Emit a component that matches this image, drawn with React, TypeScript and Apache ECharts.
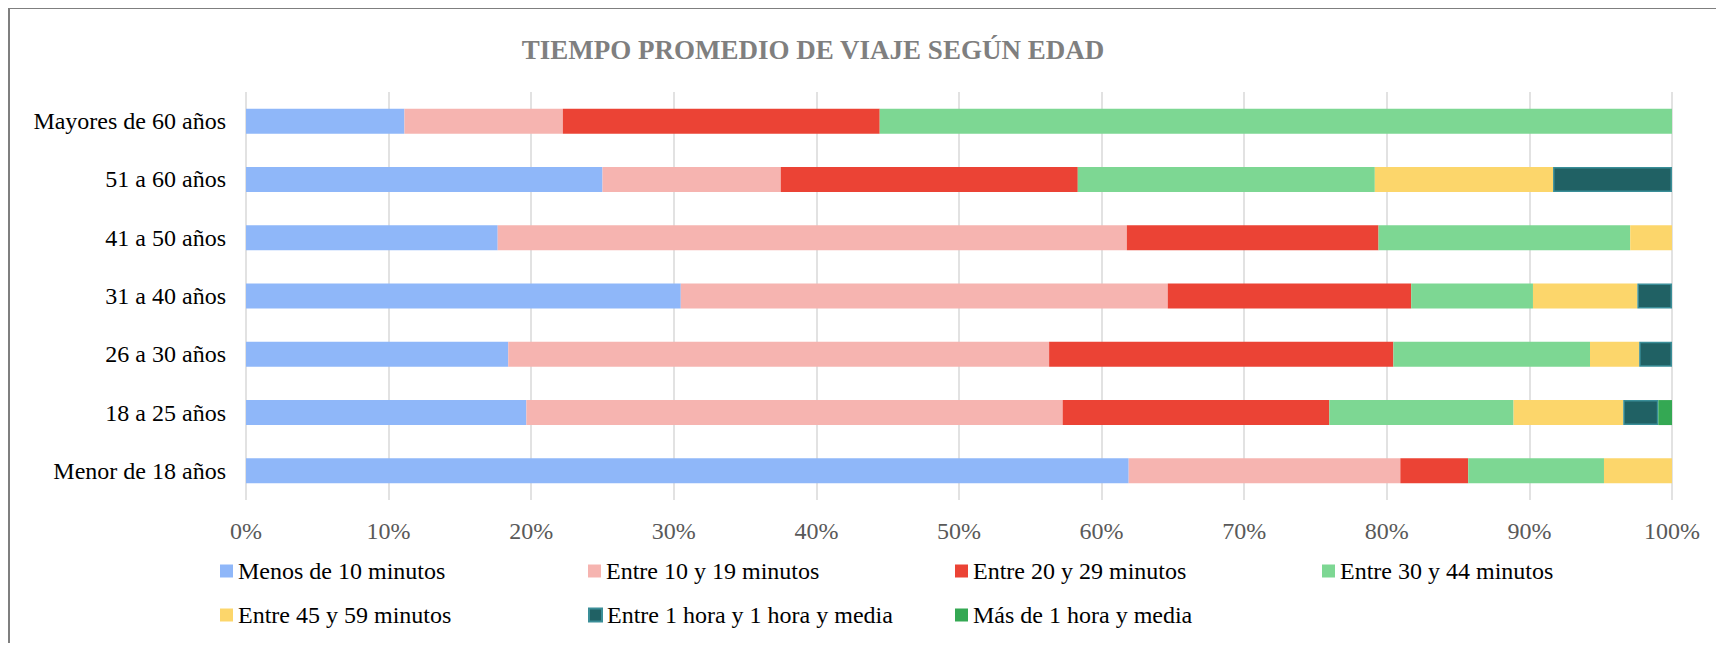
import React, { useEffect, useRef } from "react";
import * as echarts from "echarts";

const categories = [
  "Menor de 18 años",
  "18 a 25 años",
  "26 a 30 años",
  "31 a 40 años",
  "41 a 50 años",
  "51 a 60 años",
  "Mayores de 60 años",
];

const seriesNames = [
  "Menos de 10 minutos",
  "Entre 10 y 19 minutos",
  "Entre 20 y 29 minutos",
  "Entre 30 y 44 minutos",
  "Entre 45 y 59 minutos",
  "Entre 1 hora y 1 hora y media",
  "Más de 1 hora y media",
];

const menos10 = [61.9, 19.66, 18.39, 30.49, 17.65, 25.0, 11.11];
const entre10y19 = [19.05, 37.61, 37.93, 34.15, 44.12, 12.5, 11.11];
const entre20y29 = [4.76, 18.7, 24.14, 17.07, 17.65, 20.83, 22.22];
const entre30y44 = [9.52, 12.92, 13.79, 8.54, 17.65, 20.83, 55.56];
const entre45y59 = [4.77, 7.69, 3.45, 7.32, 2.93, 12.5, 0];
const entre1hy1h5 = [0, 2.46, 2.3, 2.43, 0, 8.34, 0];
const mas1h5 = [0, 0.96, 0, 0, 0, 0, 0];

const seriesValues = [menos10, entre10y19, entre20y29, entre30y44, entre45y59, entre1hy1h5, mas1h5];

const colors = ["#8fb7f9", "#f6b4b0", "#eb4335", "#7dd793", "#fcd66b", "#206164", "#34a853"];
const borderColors = ["#8fb7f9", "#f6b4b0", "#eb4335", "#7dd793", "#fcd66b", "#3a8e98", "#34a853"];

const xTicks = [0, 10, 20, 30, 40, 50, 60, 70, 80, 90, 100];

const FONT = "'Liberation Serif', 'Times New Roman', serif";

const legendPos = [
  [210, 550],
  [578, 550],
  [945, 550],
  [1312, 550],
  [210, 594],
  [578, 594],
  [945, 594],
];

export default function App() {
  const ref = useRef<HTMLDivElement>(null);

  useEffect(() => {
    if (!ref.current) return;
    const chart = echarts.init(ref.current, undefined, { renderer: "svg" });
    const option: any = {
      animation: false,
      color: colors,
      title: {
        text: "TIEMPO PROMEDIO DE VIAJE SEGÚN EDAD",
        left: 798,
        top: 22,
        textAlign: "center",
        textStyle: {
          fontFamily: FONT,
          fontWeight: "bold",
          fontSize: 27,
          color: "#7f7f7f",
        },
      },
      legend: seriesNames.map((n, i) => ({
        data: [n],
        left: legendPos[i][0],
        top: legendPos[i][1],
        padding: 0,
        itemWidth: 13,
        itemHeight: 13,
        icon: "rect",
        textStyle: { fontFamily: FONT, fontSize: 24, color: "#000" },
      })),
      grid: { left: 236, right: 44, top: 83, bottom: 143, containLabel: false },
      xAxis: {
        type: "value",
        min: 0,
        max: 100,
        interval: 10,
        axisLine: { show: false },
        axisTick: { show: false },
        splitLine: { show: true, lineStyle: { color: "#d9d9d9", width: 1.5 } },
        axisLabel: {
          formatter: (v: number) => (xTicks.includes(v) ? `${v}%` : ""),
          fontFamily: FONT,
          fontSize: 24,
          color: "#595959",
          margin: 19,
        },
      },
      yAxis: {
        type: "category",
        data: categories,
        axisLine: { show: false },
        axisTick: { show: false },
        axisLabel: {
          fontFamily: FONT,
          fontSize: 24,
          color: "#000",
          margin: 20,
        },
      },
      series: seriesNames.map((n, i) => ({
        name: n,
        type: "bar",
        stack: "total",
        barWidth: 25,
        data: seriesValues[i].map((v) => (v === 0 ? "-" : v)),
        itemStyle: {
          color: colors[i],
          borderColor: borderColors[i],
          borderWidth: i === 5 ? 1.5 : 0,
        },
      })),
    };
    chart.setOption(option);
    return () => chart.dispose();
  }, []);

  return (
    <div
      style={{
        borderTop: "1px solid #7f7f7f",
        borderLeft: "2px solid #7f7f7f",
        width: 1706,
        height: 634,
      }}
    >
      <div ref={ref} style={{ width: 1706, height: 634 }} />
    </div>
  );
}
